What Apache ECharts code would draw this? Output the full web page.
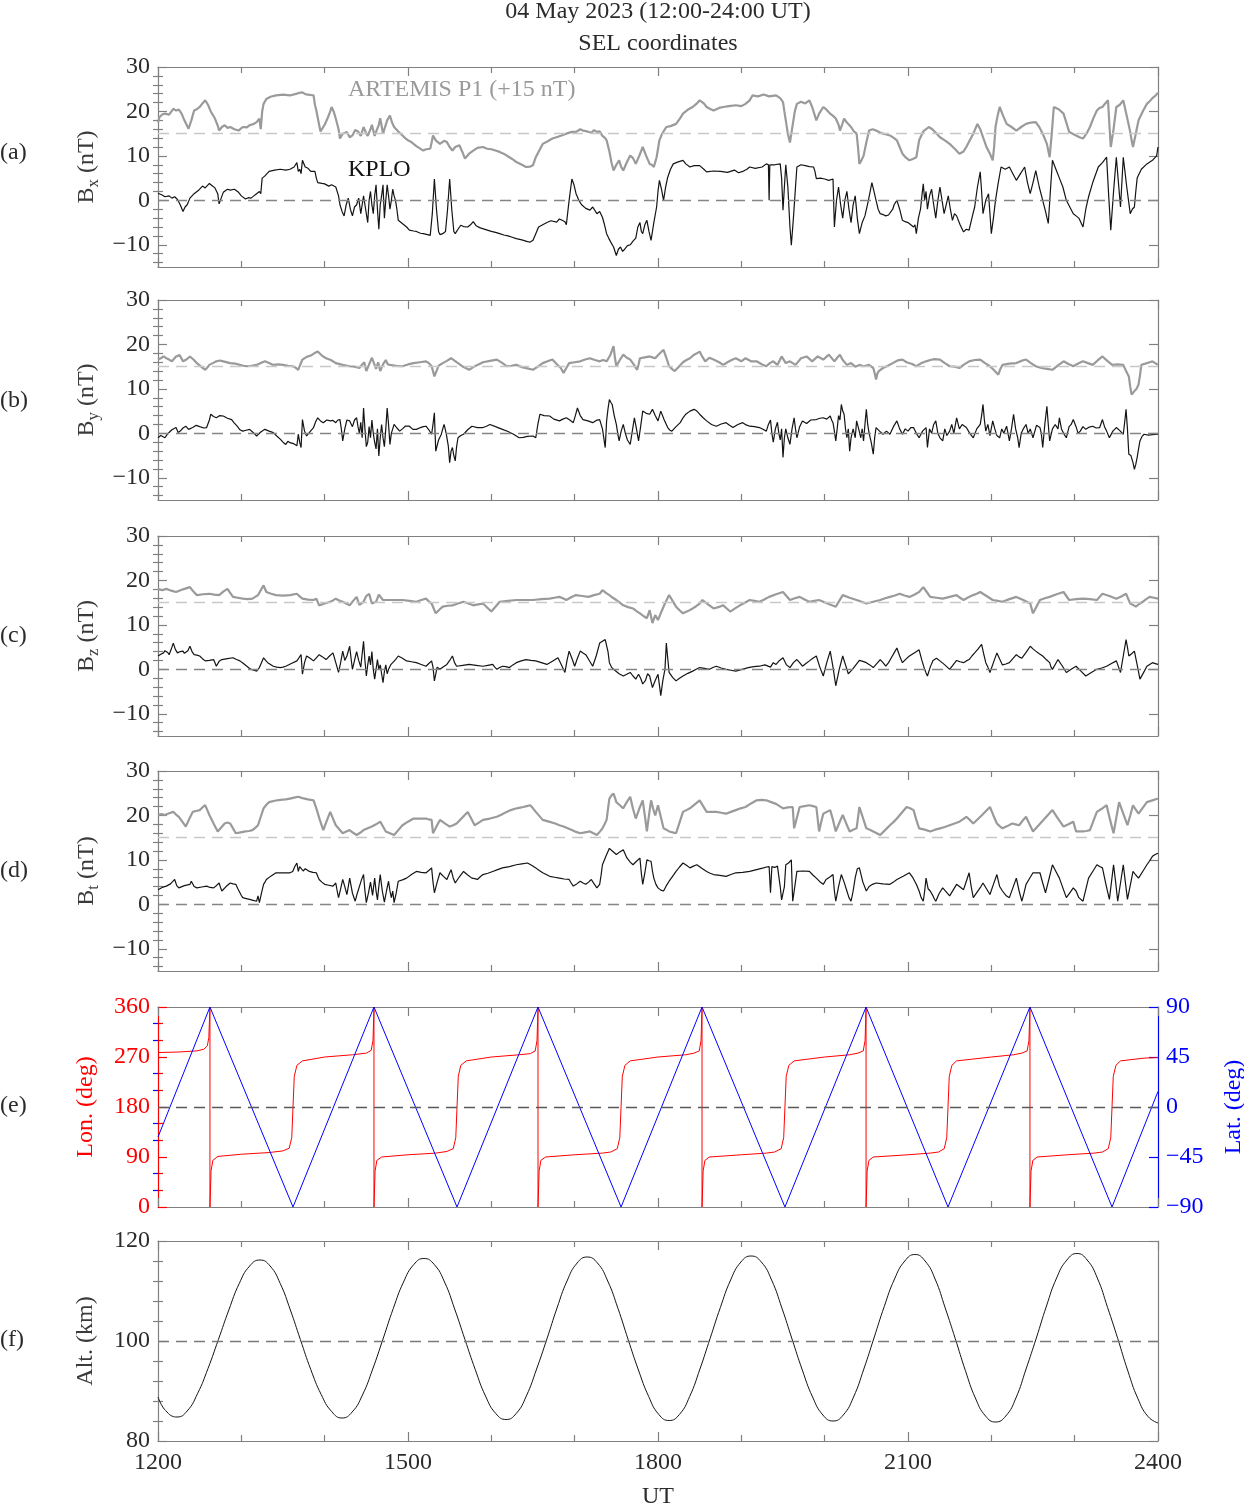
<!DOCTYPE html>
<html><head><meta charset="utf-8">
<script src="https://cdn.jsdelivr.net/npm/echarts@6/dist/echarts.min.js"></script>
<style>html,body{margin:0;padding:0;background:#fff}#c{width:1244px;height:1506px}</style>
</head><body><div id="c"></div>
<script>
// ---------- tick / label values ----------
const bLabels = [-10,0,10,20,30];
const bMinor = [-14,-12,-8,-6,-4,-2,2,4,6,8,12,14,16,18,22,24,26,28];
const lonLabels = [0,90,180,270,360];
const lonMinor = [30,60,120,150,210,240,300,330];
const latLabels = [-90,-45,0,45,90];
const latMinor = [-75,-60,-30,-15,15,30,60,75];
const altLabels = [80,100,120];
const altMinor = [84,88,92,96,104,108,112,116];

// ---------- data: [minutes after 12:00 UT, value] ----------
const kploBx = [[0,1.6],[3,1.2],[5,0.8],[8,1],[10,0.5],[12,0.8],[14,0.2],[16,-1],[18,-2.5],[19.5,-1.5],[21,-1],[23,0.5],[26,1.5],[29,2.2],[32,3.2],[34,2.8],[37,3.8],[39,3.3],[41,2.8],[43,1.5],[44,-0.8],[45.5,0.5],[47,1.8],[50,2.5],[52,2.3],[55,2.5],[58,1.8],[60,1],[63,0.3],[65,0.6],[67,0.5],[69,1],[71,1.5],[72,1.2],[73,2],[74,1.5],[75,5],[77,5.5],[80,6.5],[84,6.8],[88,7],[92,6.8],[95,7],[98,7.5],[100,8.5],[101,6.5],[102,7],[103,6],[104,9],[106,7.5],[108,7.2],[110,6.5],[113,6.5],[114,5],[115,4],[118,3.8],[120,3.7],[123,3.2],[125,3.5],[128,3],[130,1],[131,-1],[132.5,-2.5],[134,-3.5],[135.5,-1],[137,0.5],[138.5,-2],[140,-3.5],[141.5,-1.5],[143,-1],[144.5,0.5],[146,-3],[147,-1],[148,1],[149.5,-2],[151,-5],[152,0],[153,2],[154,-1],[155,-3],[156,1],[157,3.5],[158,-2],[159,-6.5],[160,-1],[161,1],[162,3.5],[163,-4],[164,0],[165,3.5],[166,1],[167,-2],[168,0],[169,2.5],[170,1],[171,0],[172,-2],[173,-4.5],[175,-5],[177,-5.5],[179,-6],[181,-6.7],[184,-6.9],[186,-7],[189,-7.4],[191,-7.5],[194,-7.7],[196,-7.9],[197.5,-3],[199,4.8],[200.5,-2],[202,-7],[203,-7.7],[205,-7.5],[207,-7],[208.5,-2],[210,4.8],[211.5,-2],[213,-7],[214,-7.5],[216,-6.5],[218,-5.6],[220,-5.9],[223,-6],[225,-5.5],[227,-4.8],[229,-5.7],[232,-6.2],[236,-6.6],[240,-7],[243,-7.2],[246,-7.5],[249,-7.8],[252,-8],[255,-8.3],[258,-8.6],[262,-8.9],[266,-9.3],[268,-9.4],[270,-9],[272,-7.5],[274,-6],[277,-5.5],[280,-5],[283,-4.6],[287,-4.9],[289,-4.2],[291,-4.5],[293,-4.8],[294,-5.5],[296,0],[298,4.8],[299.5,3.5],[301,1.5],[303,0],[305,-1],[308,-1.8],[311,-2.2],[313,-1.5],[316,-3],[318,-2.5],[320,-3.8],[321.5,-5.5],[323,-7.5],[324.5,-8.5],[326,-9.4],[328,-10.5],[330,-12.4],[331.5,-11],[333,-10.5],[334.5,-11.5],[336,-11],[338,-10.2],[340,-10],[342,-9.2],[344,-8.5],[345.5,-6],[347,-5],[348,-7],[349,-7.5],[350.5,-5.5],[352,-4.5],[353.5,-7],[355,-9],[357,-5],[359,-1.5],[360,2],[361,4.5],[362.5,2.5],[364,0],[365.5,3],[367,5.2],[369,7],[371,8.2],[374,8.6],[378,9],[380,8.2],[383,7.5],[386,7.8],[390,7.8],[393,7],[395,6.4],[400,6.6],[405,6.5],[410,6.3],[415,6.8],[418,6.2],[421,6.5],[424,7],[426,7.5],[430,7.2],[435,7.5],[438,8.2],[439.5,8],[440,0],[440.5,8],[444,8],[448,8.2],[449,5],[450,-2.2],[451,3],[452,8],[453.5,3],[455,-6],[456,-10.1],[457.5,-4],[459,3],[460,7.5],[463,8],[466,7.8],[469,7.6],[472,7.5],[473,6.5],[474,4.9],[477,5],[480,4.8],[483,4.5],[486,4.8],[487,-6],[488.5,0],[490,3],[491.5,-1],[493,-4],[494.5,0],[496,2],[497.5,-2],[499,-5],[500.5,-1],[502,1],[503.5,-4],[505,-7.5],[507,-5],[509,-3.5],[511.5,0],[514,4],[515.5,2],[517,0],[518.5,-2],[520,-3],[522,-3.2],[524,-3.5],[526,-3.3],[527,-3.7],[529,-2],[530,-1],[532,0],[534,-2],[536,-4.5],[538,-4.8],[540,-5],[542,-5.5],[544,-6],[545,-5.5],[546,-7.5],[547.5,-4],[549,-2],[550,1],[551,3.7],[552,0],[553,2],[554,-2],[555.5,1],[557,2.5],[558.5,-1],[560,-4],[561.5,0],[563,3],[564.5,0],[566,-3],[567.5,-1],[569,1],[570.5,-2],[572,-4.5],[573.5,-3],[575,-3.5],[577.5,-5.5],[580,-7.1],[582,-6.5],[584,-6.7],[586,-4],[588,-1.5],[590,3],[592,6.4],[593,2],[594,-3],[596,0],[598,1.5],[599,-3],[600,-7.5],[601.5,-4],[603,0],[605,4],[607,7.5],[610,7],[613,7.5],[615.5,6],[618,4.5],[621,6],[624,7.5],[626,4],[628,1.5],[630,4],[632,6.7],[634.5,3],[637,0],[639,-2.5],[641,-5.2],[642.5,2],[644,9],[646.5,7],[649,5],[651.5,3],[654,0],[656.5,-1.5],[659,-3],[661,-3.5],[663,-4],[664.5,-5],[666,-6],[668,-2],[670,0.8],[673,4],[677,7.5],[680,8.5],[683,9.7],[684.5,1],[686,-6.7],[688,2],[690,9.7],[691.5,4],[693,-1.5],[694,4],[695,9.7],[697.5,3],[700,-3],[701.5,-2],[703,-1.5],[704,2],[705,5],[708,7],[712,8.2],[716,9],[719,10],[720,12]];

const artemisBx = [[0,17.5],[1,18.7],[3,19.3],[5,19.5],[8,19.3],[11,20.6],[13,20.2],[15,20.4],[17,19.5],[19,18],[22,16.1],[24,18],[26,20.2],[28,20.5],[30,21],[32,21.8],[34,22.5],[36,21.5],[38,20],[41,18.4],[43,16.8],[44,15.7],[46,16.5],[48,16.9],[50,16.3],[52,16.5],[55,16],[58,15.7],[61,16.5],[64,16.4],[66,16.9],[69,17.2],[71,17.6],[73,18.4],[74,16],[75,20],[76,21.7],[78,22.8],[81,23.3],[85,23.6],[90,23.8],[95,23.6],[100,24],[102,24.2],[104,24.3],[106,23.9],[108,23.8],[110,23.7],[112,23.6],[113,21.5],[114,20.2],[116,17],[117,15.5],[118,15.7],[120,17],[122,18.4],[124,20],[125,21],[126.5,20],[128,18.4],[130,16],[131,13.9],[133,15],[136,15.4],[138,14.2],[140,14.6],[142,15.8],[144,15.5],[146,14.5],[148,16.5],[150,15],[151,14.5],[153,16],[154,17],[156,14.5],[157,15.4],[159,17],[160,18.5],[162,15],[163,16],[165,18],[167,19.1],[168.5,17.5],[170,16.5],[173,15.5],[176,14.6],[178,14],[180,13.5],[182,13.2],[184,12.7],[186,12.2],[188,11.8],[191,11.2],[193,11.5],[196,11.6],[197,13],[198,14.6],[200,13.5],[203,12.7],[206,13.4],[208,13.1],[210,12],[212,11.2],[214,12],[217,12.4],[219,11],[221,9.4],[224,10.5],[227,11.2],[230,11.8],[234,12],[237,11.6],[240,11.5],[243,11.2],[246,10.9],[250,10.3],[253,9.7],[256,9.1],[258,8.6],[262,8],[265,7.5],[268,7.6],[270,7.9],[272,9.7],[275,11.5],[277,12.7],[280,13.2],[284,13.9],[288,14.3],[294,15],[298,15.4],[301,15.4],[304,16],[306,15.7],[309,15.5],[312,15.2],[314,15.8],[316,15.4],[318,15.5],[320,14.5],[322,14],[323,13.5],[325,11],[326.5,8.5],[328,6.7],[330,8],[332,9],[333.5,7.5],[335,6.7],[337.5,8.5],[340,10.1],[342,9.5],[344,8.2],[346.5,10],[349,12],[351.5,10],[354,8.2],[355.5,8],[357,7.5],[359,9.7],[361,13.5],[363,15],[366,16.5],[369,16.7],[373,17.2],[376,18.5],[378,19.5],[382,20.5],[385,21],[388,21.8],[390,22.5],[393,21.8],[395,21],[398,20.5],[400,20.2],[404,20.8],[407,21],[411,21.2],[416,21.4],[420,21.2],[423,21.7],[426,22.5],[428,23.6],[432,23.4],[436,23.8],[440,23.4],[445,23.6],[448,23],[450,22.1],[451,20],[452,18],[453.5,15],[455,13],[456,15],[457,17],[458.5,20],[460,21.7],[463,22.2],[466,21.8],[469,22.5],[471,21],[474,18],[476,19.5],[479,21],[481,20.5],[484,19.5],[486,19],[488,18.4],[490,17],[491,15.7],[492.5,17],[494,18.4],[496,17.5],[499,16.5],[501,15.5],[503,15],[504,12],[505,8.2],[506.5,9],[508,10],[510,13],[512,15.7],[514.5,16],[517,15.7],[519.5,15.3],[522,15],[524.5,14.8],[527,14.6],[530,14],[532,13.5],[534,12],[536,10.5],[538.5,9.6],[541,9],[543.5,9.3],[546,9.7],[548,13.5],[551,15.5],[555,16.5],[557.5,16],[560,15.2],[563,14.2],[566.5,13.5],[570,12.7],[574,11.5],[577,10.5],[580,11],[582,12],[584.5,13.5],[587,15],[590,17.2],[592,16],[594,14.2],[596.5,12],[599,10.5],[601,9],[602,12],[603,16.5],[604.5,19],[606,21],[608.5,19],[611,17.2],[614.5,16.5],[618,15.7],[621.5,16.5],[625,17.2],[628.5,17.5],[632,17.6],[634.5,16.5],[637,15],[640,12.7],[642,9.7],[643.5,15],[645,21],[648.5,20.5],[652,19.5],[654,17.5],[656,15.4],[658.5,15],[661,14.6],[663.5,14.2],[666,13.9],[668.5,15],[671,16.5],[673.5,18.5],[676,20.2],[678,20.8],[680,21],[682,21.8],[684,22.5],[685,17],[686,12],[688,16],[690,21],[692.5,21.5],[695,22.5],[697.5,19],[700,15.4],[701,13.5],[702,12],[704,15],[706,18],[709,20],[712,21.7],[714,22.3],[716,23],[718,23.5],[720,24.2]];

const kploBy = [[0,-1],[2,-0.5],[5,-1],[6.5,-0.3],[8,0.2],[10,0.8],[13,1.3],[14.5,0.2],[16,0.5],[18,1.2],[20,1.6],[22,0.9],[25,1.3],[27.5,1.8],[30,1.5],[33,1.2],[35,1.3],[36,1.3],[37,3],[38,4.3],[40,3.8],[42,3.5],[44.5,4],[47,3.9],[50,3.4],[53,3.1],[55,2.3],[57,1.6],[59,0.8],[61,0.5],[63.5,0.7],[66,0.9],[68.5,0.2],[71,-0.6],[74,0.3],[77,0.9],[80,0.5],[83,0.15],[85.5,-0.6],[88,-1.3],[90,-2],[92,-2.5],[93.5,-1.8],[95,-2.1],[97.5,-2.3],[100,-2.8],[101,-0.2],[102,-2],[103,-3.2],[104,3.1],[105.5,0.5],[107,-0.6],[109.5,0.4],[112,1.3],[113.5,2.6],[115,3.5],[117,2.8],[119,2.4],[121.5,3],[124,2.8],[126,2.9],[128,2.4],[129.5,3],[131,3.1],[132,1],[133,-1.7],[134.5,1],[136,3],[138,2.8],[140,1.5],[141.5,3],[143,3.5],[144,1.5],[145,0],[146,2.5],[147,-1],[148,5.7],[149,1],[150,-3],[151,-2],[152,1.5],[153,-1],[154,3],[155,0],[156,-2],[157,-3.5],[158,1],[159,-5.1],[160,-1],[161,2],[162,-1],[163,-3],[164,1],[165,5.7],[166,2],[167,-2.5],[168,0],[169,1],[170,2],[172,1.2],[174,0.5],[176,1],[178,1.6],[181,1.6],[183.5,0.9],[186,0.9],[189,1.3],[191,1.5],[193,1.6],[195,0.8],[197,-0.2],[198,2],[199,4.6],[199.5,0],[200,-4],[202,-1.5],[204,-0.2],[205,1],[206,2],[207.5,0],[209,-2.8],[210,-6.6],[211,-4],[212,-3.2],[213,-5],[214,-6.2],[215,-3],[216,-1],[218,-0.5],[220,-0.2],[223,0.8],[226,1.6],[230,1.3],[234,1.3],[236.5,1.6],[239,2],[243,1.5],[248,0.9],[252,0.4],[256,-0.2],[258,-0.6],[260,-1],[263,-0.9],[266,-0.7],[270,-0.6],[272,-1],[273.5,2],[275,4.3],[278,4],[282,3.9],[285,3.2],[289,2.8],[291.5,3.2],[294,3.5],[296.5,3],[299,2.4],[300.5,4],[302,5.7],[304,4],[306,3.1],[309.5,2.8],[313,2.4],[315.5,2.9],[318,3.1],[320,1],[322,-3.2],[323,2.8],[324,5.5],[325,7.6],[326,7],[327,6.5],[328.5,4],[330,2],[331,0],[332,-1.7],[333.5,0.5],[335,2],[336.5,0],[338,-1.5],[340,-2.5],[341.5,0.5],[343,3.5],[344.5,1],[346,-1.7],[347.5,1.5],[349,5],[351.5,4.5],[354,4.3],[356,5.4],[358,4],[360,2.8],[362,5],[364.5,3],[367,1.3],[368.5,0.7],[370,0.5],[373,1.5],[376,2.4],[378,3.5],[380,4.3],[383,5],[386,5.4],[388,5],[390,4.3],[392.5,3.5],[395,2.8],[398.5,2],[402,1.6],[405.5,2.1],[409,2.4],[411.5,1.8],[414,1.3],[417.5,2],[421,2.4],[423.5,1.9],[426,1.6],[429.5,1.5],[433,1.3],[435.5,0.9],[438,0.5],[439.5,2],[441,3],[442,0],[443,-2],[444.5,1],[446,2.5],[447,0],[448,-1.5],[449,1],[450,-5.4],[451,-1],[452,1],[453.5,-1],[455,-2.5],[456.5,1],[458,3.5],[459,1],[460,-1],[462,1.5],[464,2.8],[467,2.2],[470,3],[474,3.1],[476.5,3.4],[479,3.5],[481.5,3.2],[484,3.9],[485,3],[486,2.4],[487,0.5],[488,-1.7],[489,1],[490,4],[491,3],[492,6.5],[493,5],[494,4.3],[495,1],[496,-1],[497,1],[498,-4],[499,-1],[500.5,1],[502,-1],[503,2.8],[504.5,1],[506,-1],[507,1],[508,-1.7],[509,2],[510,5.4],[511,2],[512,0],[513.5,-2],[515,-4.7],[516,-1],[517,1.3],[519.5,0.5],[522,-0.2],[524.5,0.5],[527,-0.2],[529.5,1.5],[532,2.8],[534,1],[536,-0.2],[538,1],[540,0.5],[542,1.3],[544,1.3],[546,0],[548,-1],[550.5,0.5],[553,1.3],[554,-3.2],[555.5,1],[557,0],[558.5,2],[560,2.8],[561.5,0],[563,-1],[565,-1.7],[566.5,1],[568,-0.5],[570,0.5],[571.5,2],[573,0],[575,3.5],[577,1],[579,2],[582,1.3],[584.5,0],[587,-1],[589.5,1],[592,2],[593,4],[594,6.5],[595,3],[596,0.5],[597.5,2],[599,-0.5],[601,2.8],[602.5,1],[604,-0.5],[606,-1],[607.5,1],[609,0],[611,1.6],[612,0],[613,-1.7],[614.5,1],[616,4.3],[617.5,1],[619,-1],[620,-3.2],[621.5,0],[623,1],[625,2],[626.5,0],[628,1],[630,-1],[632.5,1.8],[635,1.3],[636,0],[637,-3.2],[638.5,2],[640,6.1],[641,2],[642,-1.7],[644,1],[646,2],[648,1],[649,3.5],[650.5,1],[652,0],[654,-1],[656,1.5],[657.5,2],[659,3.1],[661,1.5],[662.5,0],[664,0.5],[666,1.5],[668,0.9],[670.5,1.4],[673,1.6],[675.5,1.2],[678,1.3],[679,2.2],[680,3.1],[681.5,1.5],[683,0.5],[685,-1],[687.5,0.5],[690,1.3],[692.5,0.6],[695,-0.2],[696,2.5],[697,5.4],[698,1],[699,-4.7],[700.5,-5],[702,-6.6],[703,-8.1],[704,-7],[705,-5.4],[706,-3.5],[707,-1.7],[708.5,-0.7],[710,-0.2],[713,-0.4],[716,-0.3],[720,-0.2]];

const artemisBy = [[0,16.6],[2,16.9],[4,17.3],[6,16.9],[8,16.6],[10,16.2],[13,17.3],[15.5,17.6],[18,16.2],[20.5,16.6],[23,17.3],[25.5,16.6],[28,15.8],[31,15],[34,14.3],[35.5,14.8],[37,15.4],[39.5,15.8],[42,16.2],[44.5,16.4],[47,16.2],[52,15.8],[55.5,15.7],[59,15.4],[61.5,15.2],[64,15.1],[67.5,15.2],[71,15.4],[74,15.8],[77,16.2],[80,15.8],[83,15.4],[86.5,15.5],[90,15.4],[93.5,15.2],[97,15.1],[99,14.8],[101,14.3],[102.5,15.5],[104,16.6],[107,17.2],[110,17.5],[112.5,18],[115,18.4],[118,17.5],[121,16.9],[124.5,16.5],[128,15.8],[133,15.4],[138,15.1],[141.5,15],[145,14.7],[147,15.5],[148.5,16],[150,14],[152,15.5],[154,17],[155,16.2],[157,14.5],[158.5,16],[160,14],[162,15.5],[164,16.5],[165.5,15.5],[167,15.4],[171.5,15.2],[176,15.1],[180,15.5],[184,15.8],[188.5,16],[193,16.2],[195,15.8],[197,15.1],[198,14],[199,12.8],[200.5,14],[202,15.2],[205,15.8],[208,16.3],[211,16.9],[215,16],[219,15.1],[221.5,14.7],[224,14.3],[227,14.9],[230,15.4],[234,16],[239,16.3],[244,16.6],[247.5,15.9],[251,15.1],[254.5,15.2],[258,15.4],[262,14.9],[266,14.6],[270,14.3],[273.5,15],[277,15.8],[280.5,16.2],[284,16.6],[287,15.6],[290,14.7],[292,13.6],[294,14.7],[296,15.8],[300,16],[304,16.2],[307.5,16.6],[311,16.9],[314.5,16.5],[318,16.2],[320.5,16.5],[323,16.2],[325.5,17.5],[328,19.6],[329,17],[330,15.1],[332.5,16.5],[335,17.7],[337.5,17],[340,16.6],[342.5,15.5],[345,14.3],[346,15.5],[347,16.9],[350.5,17.1],[354,17.3],[356,17.1],[358,16.9],[361,17.9],[364,18.8],[366,17],[368,15.1],[370,14.5],[372,14],[375,15],[378,16],[380.5,16.5],[383,16.9],[386,17.7],[388,18],[390,18.4],[392,17.2],[394,16.2],[397,17],[400,16.6],[404,16],[407,15.4],[410,16],[413,16.5],[416,16.9],[420,16.2],[423,16.9],[427,16.2],[431,16.2],[435,15.5],[438,15.1],[440.5,15.8],[443,16.2],[446,15.4],[449,17.3],[452,15.8],[455,16.2],[459,15.4],[463,16.9],[467,17.3],[471,16.2],[475,17.3],[479,16.6],[483,17.7],[487,16.2],[489,17],[491,17.7],[493,16.5],[496,15.4],[499,15.8],[502,15],[505,15.4],[508,15.1],[512,15.4],[515,14.7],[516,13.5],[517,12.1],[518,13.5],[519,14],[522,14.7],[525.5,15.2],[529,15.8],[532.5,16.4],[536,16.6],[539,16],[543,15.6],[546,15.1],[549,15.7],[553,16.2],[556,16.5],[559,16.7],[563,16.6],[566.5,15.8],[570,15.1],[573.5,15],[577,14.7],[580.5,15.5],[584,16.2],[588,16.5],[592,16.6],[595.5,15.8],[599,15.1],[602,14.2],[605,13.2],[606.5,14.5],[608,15.4],[613,15.7],[618,15.8],[621.5,16.3],[625,16.6],[628.5,15.8],[632,15.1],[636,14.7],[640,14.5],[644,14.3],[648,15.3],[652,16.2],[655.5,15.6],[659,15.1],[662.5,15.7],[666,16.2],[669.5,15.8],[673,15.4],[676.5,16.4],[680,17.3],[683.5,16.3],[687,15.4],[691,15.5],[695,15.4],[697,14],[699,12.8],[700,10.5],[701,8.7],[702,9],[703,9.5],[704.5,10],[706,11],[707,13],[708,15.4],[710,15.6],[712,15.8],[714,16],[716,16.2],[718,15.8],[720,15.4]];

const kploBz = [[0,3],[2,3.4],[4,3.7],[5,4.2],[6,4.4],[7,3.8],[8,3.3],[9.5,4.5],[11,5.9],[12.5,4.5],[14,3.7],[16,4],[18,4.1],[19,3.6],[20,3.3],[21.5,4.2],[23,5.2],[24.5,4],[26,3.3],[28,3.2],[30,3],[32,2.4],[34,1.9],[37,2],[40,2.2],[41,1.5],[42,0.7],[44,1.8],[46,2.2],[50,2.4],[54,2.6],[56.5,2.2],[59,1.9],[61.5,1.3],[64,0.7],[65.5,0.3],[67,0],[69,-0.2],[71,-0.4],[72,0],[73,0.4],[74.5,1.5],[76,2.6],[77.5,2],[79,1.5],[81,1.1],[83,0.7],[85.5,0.5],[88,0.4],[90,0.5],[92,0.7],[96,1.3],[100,1.9],[101.5,2.6],[103,3.3],[104,-1.1],[105.5,1.5],[107,3],[109.5,2.5],[112,1.9],[114,2.6],[116,3.3],[118.5,2.8],[121,2.2],[123.5,3],[126,3.7],[128,1.5],[130,-0.7],[131.5,1.5],[133,4.1],[134.5,2],[136,3],[138,5.2],[139,2.5],[140,0],[141.5,2],[143,4],[144.5,2],[146,0.5],[147,3.5],[148,6.3],[149,2],[150,-1.5],[151,1],[152,3],[153,1],[154,4],[155,0],[156,-2.2],[157,0],[158,2.2],[159,0],[160,1],[161,-1],[162,-3],[163,-0.5],[164,1],[165,-1],[166,0],[167.5,1],[169,1.5],[171,2.2],[173,3],[176,2.5],[179,1.9],[182.5,1.7],[186,1.5],[189.5,1.1],[193,0.7],[195,1.3],[197,1.9],[198,0.5],[199,-2.6],[200,-1],[201,0.5],[203,0],[205.5,0.6],[208,1.1],[210,2],[212,3],[213.5,1.5],[215,0.7],[219.5,0.9],[224,1.1],[229,0.9],[234,0.7],[237.5,0.9],[241,1.1],[242.5,0.5],[244,0],[246,0.4],[248,0.7],[250.5,0.6],[253,0.4],[255.5,1],[258,1.5],[261.5,1.9],[265,2.2],[268.5,2],[272,1.9],[276,1.5],[280,1.1],[284,1.8],[288,2.6],[290.5,1],[293,-0.7],[294.5,2],[296,4.1],[298,2.5],[300,0.7],[302,2.5],[304,4.1],[306,3.7],[308,3.3],[310.5,2],[313,0.7],[315.5,3],[318,5.9],[320,6.3],[322,6.7],[323,7],[324,4],[325,1.5],[326.5,0.5],[328,0],[330,-0.5],[332,-1],[335,-1.5],[337.5,-1.1],[340,-0.7],[342,-1.5],[344,-2.2],[345,-1.6],[346,-1.1],[347.5,-2],[349,-3.3],[351,-2.5],[352.5,-1],[354,-1.5],[355,-2.8],[356,-4.1],[358,-2.5],[360,-1.1],[361,-3.5],[362,-5.9],[363.5,-2.5],[365,0],[366,5.9],[367,2.5],[368,-0.7],[370.5,-1.8],[373,-2.6],[375.5,-2],[378,-1.5],[381.5,-0.9],[385,-0.4],[387.5,0],[390,0.4],[393.5,0.2],[397,0],[399.5,0.4],[402,0.7],[405.5,0.3],[409,0],[412.5,-0.2],[416,-0.4],[420.5,0],[425,0.4],[429,0.6],[433,0.7],[437,1],[441,0.5],[443,1.5],[445,1.1],[447.5,2],[450,2.6],[452.5,1],[455,0.4],[457.5,1.5],[460,2.2],[462,1.5],[464,0.7],[466.5,1.3],[469,1.9],[471.5,2.5],[474,3],[476.5,0.5],[479,-1.5],[481.5,1.5],[484,4.1],[486,0.5],[488,-3.7],[490.5,0],[493,3],[495,1],[497,-1],[498.5,-0.5],[500,0],[502.5,1],[505,2],[507.5,1.8],[510,1.5],[512.5,1],[515,0.4],[517.5,1.3],[520,2.2],[522,1.5],[524,0.7],[526,1.5],[528,2.6],[530,3.7],[532,4.8],[534,3],[536,1.5],[538.5,2.3],[541,3],[544.5,3.7],[548,4.4],[550,2],[552,0],[553,-0.8],[554,-1.5],[556,0.5],[558,2],[560.5,2.5],[563,1.9],[566.5,1],[570,0],[572.5,1],[575,2],[577.5,1.7],[580,1.5],[582,1.9],[584,2.2],[586,3],[588,3.7],[590.5,4.6],[593,5.6],[594.5,3.5],[596,1.5],[597.5,0.5],[599,-0.7],[601.5,1.5],[604,3.7],[606,2.3],[608,1],[610.5,1.2],[613,1.5],[615.5,2.4],[618,3.3],[620,2.8],[622,2.5],[625,3.8],[628,5.2],[630,4.6],[632,4.1],[634.5,3.5],[637,3],[639.5,2.2],[642,1.5],[643,0.5],[644,0],[646,1.1],[648,2.2],[651,0.8],[654,-0.7],[657.5,0],[661,0.7],[664.5,-0.4],[668,-1.5],[672,-0.7],[676,0],[679.5,0.3],[683,0.7],[686.5,1.3],[690,1.9],[691.5,0.6],[693,-0.7],[695,3],[697,6.7],[698,5],[699,3],[701,3.5],[703,4.1],[705,1],[707,-2.2],[709.5,-0.8],[712,0.7],[714,1.1],[716,1.5],[718,1.3],[720,1.1]];

const artemisBz = [[0,18.1],[3,17.8],[6,18.1],[9.5,17.7],[13,17.4],[18,18],[23,18.5],[25.5,17.5],[28,16.7],[32.5,16.9],[37,17],[40.5,16.8],[44,16.7],[47,17.5],[50,18.1],[52,17.2],[54,16.3],[57.5,16.1],[61,15.9],[64.5,15.8],[68,15.9],[70,16.3],[72,16.7],[74,17.8],[76,18.9],[78,17.4],[81.5,17],[85,16.7],[90,16.6],[95,16.7],[100,17],[102,16.4],[104,15.9],[108,15.7],[112,15.6],[114,15.9],[116,14.4],[120,14.8],[124,15.2],[126,15.5],[128,15.9],[130.5,15.5],[133,15.2],[135.5,14.8],[138,14.4],[140.5,15.4],[143,16.3],[145,14.5],[148,15.2],[150,16.5],[152,17],[154,14.8],[157,15.2],[159,16.8],[162,15.6],[167,15.6],[171.5,15.6],[176,15.6],[181,15.4],[186,15.2],[189.5,15.6],[193,15.9],[195,15.3],[197,14.8],[198.5,13.7],[200,12.6],[202.5,13.4],[205,14.1],[208.5,14.3],[212,14.4],[216,14.8],[220,15.2],[223.5,14.8],[227,14.4],[230.5,14.6],[234,14.8],[237,13.9],[240,13],[243,14.1],[246,15.2],[252,15.4],[258,15.6],[264,15.6],[270,15.6],[276,15.8],[282,15.9],[285.5,16.1],[289,16.3],[291.5,16],[294,15.6],[297.5,16.2],[301,16.7],[305.5,16.5],[310,16.3],[314,16.7],[318,17],[320,17.8],[322.5,17.2],[325,16.7],[327.5,16.1],[330,15.6],[332.5,15],[335,14.4],[338.5,14],[342,13.7],[344.5,13.1],[347,12.6],[349.5,12],[352,11.5],[354,13.3],[356,10.4],[358,12.2],[360,11.1],[362.5,13],[365,14.8],[368,16.7],[370.5,15.4],[373,14.1],[375.5,13.3],[378,12.6],[381.5,13.1],[385,13.7],[387.5,14.2],[390,14.8],[392,15.6],[396,14.6],[400,13.7],[403.5,14],[407,14.4],[409.5,13.7],[412,13],[415.5,13.7],[419,14.4],[422.5,15],[426,15.6],[429.5,15.4],[433,15.2],[436.5,15.7],[440,16.3],[445,16.9],[450,17.4],[452.5,16.5],[455,15.6],[458.5,16],[462,16.3],[465.5,15.7],[469,15.2],[472.5,15.4],[476,15.6],[482,14.8],[488,14.1],[490.5,15.4],[493,16.7],[498,16.1],[503,15.6],[506.5,15.2],[510,14.8],[515,15.2],[520,15.6],[523.5,16],[527,16.3],[530.5,16.6],[534,17],[537.5,16.6],[541,16.3],[544.5,16.8],[548,17.4],[551,18.5],[553.5,17.4],[556,16.3],[560.5,16.1],[565,15.9],[570,16.3],[575,16.7],[577.5,16.1],[580,15.6],[583.5,16.2],[587,16.7],[589.5,17],[592,17.4],[596.5,16.5],[601,15.6],[604.5,15.4],[608,15.2],[613,15.8],[618,16.3],[623,15.6],[628,14.8],[630,12.6],[632.5,14.1],[635,15.6],[638.5,16],[642,16.3],[647,16.9],[652,17.4],[654,16.5],[656,15.6],[661,15.8],[666,15.9],[671,15.8],[676,15.6],[678,16.3],[680,17],[685,16.5],[690,15.9],[693.5,16.4],[697,17],[698.5,15.9],[700,14.8],[702,14.5],[704,14.1],[706.5,14.7],[709,15.2],[711.5,15.8],[714,16.3],[717,16.1],[720,15.9]];

const kploBt = [[0,3.3],[3,3.8],[6,4.1],[9,4.6],[12,5.6],[13.5,4.2],[15,3.7],[19,4.2],[23,4.5],[24,5.2],[26,4],[28,3.7],[31.5,3.9],[35,4.1],[37.5,3.8],[40,3.7],[42,4.2],[44,4.8],[45,3.8],[46,3],[49,4],[52,4.8],[54,4.6],[56,4.5],[57.5,3.5],[59,2.6],[60,2],[61,1.5],[63.5,1.3],[66,1.1],[68.5,0.9],[71,0.7],[72,1.9],[73,0.4],[74.5,2.5],[76,4.5],[77,5],[78,5.6],[81.5,6.4],[85,7.1],[90,7.1],[95,7.1],[97,7.4],[98.5,8.5],[100,9.3],[101,7.4],[102,8.5],[103,8.9],[104.5,7.5],[106,8],[109,7.4],[111.5,7.2],[114,7.1],[115,6.3],[116,5.6],[118,5],[120,4.5],[123,4.3],[126,4.1],[128,4.8],[129,3],[130,1.5],[131.5,3.5],[133,5.6],[134.5,4],[136,2.2],[137,4],[138,5.9],[140,2.5],[142,0.7],[143.5,2.5],[145,4],[146.5,5.5],[148,6.7],[149,3],[150,0.4],[151.5,2.5],[153,5],[154.5,2],[156,5.9],[157,3],[158,1],[159,4],[160,6.7],[161.5,3],[163,0.5],[164.5,3],[166,5.2],[167,3],[168,1.5],[169,3],[170,0.4],[171.5,2.5],[173,5.2],[176,5.5],[179,5.9],[182.5,6.7],[186,7.4],[189.5,7.2],[193,7.1],[195,7.6],[197,8.2],[198,5],[199,2.6],[201,5],[203,7.1],[205.5,6.3],[208,5.6],[209.5,6.7],[211,7.8],[212.5,6],[214,4.8],[217,6.2],[220,7.4],[223,6.6],[226,5.9],[228,5.8],[230,5.6],[232,6.2],[234,6.7],[237.5,7],[241,7.4],[244.5,7.8],[248,8.2],[253,8.5],[258,8.9],[262,9.1],[266,9.3],[269,8.8],[272,8.2],[274.5,7.6],[277,7.1],[279.5,6.7],[282,6.3],[285.5,6.1],[289,5.9],[292.5,5.7],[296,5.6],[297.5,4.8],[299,4.1],[301.5,4.6],[304,5.2],[306,4.8],[308,4.5],[310,5],[312,5.6],[314,4.6],[316,3.7],[318,4.5],[319,6.5],[320,8.9],[322.5,10.8],[325,12.6],[327.5,11.9],[330,11.2],[332.5,11.8],[335,12.3],[337.5,10.5],[340,9.5],[342,8.9],[344.5,9.7],[347,10.4],[348,7],[349,4.5],[350.5,7],[352,10],[353.5,9.8],[355,9.7],[356,7.5],[357,5.9],[358.5,4.5],[360,3.7],[362,3.2],[364,3],[366,4.2],[368,5.2],[370.5,6.3],[373,7.4],[375.5,8.4],[378,9.3],[380.5,8.8],[383,8.2],[385.5,8.6],[388,8.9],[391.5,8.1],[395,7.4],[397.5,7],[400,6.7],[404.5,6.5],[409,6.3],[412.5,6.7],[416,7.1],[421,7.2],[426,7.4],[431,7.8],[436,8.2],[438,8.4],[440,8.5],[441,2.6],[442,8.5],[444,8.3],[446,8.6],[448,4],[449,1],[450,0.7],[451,4],[452,8.9],[454,9.3],[456,10],[456.5,5],[457,0.7],[458.5,4],[460,7.4],[464.5,7.5],[469,7.4],[471.5,6.6],[474,5.9],[476.5,5.1],[479,4.5],[481,5.6],[484,6.2],[486,6.7],[487,3],[488,0.7],[490,4],[492,6.7],[494,5],[496,3],[497.5,1.5],[499,0.7],[500.5,3],[502,6],[503.5,8],[505,8.2],[507.5,5],[510,3],[512,4],[514.5,4.5],[517,4.8],[522,4.6],[527,4.5],[529.5,5],[532,5.6],[536.5,6.3],[541,7.1],[543.5,6],[546,4.5],[548,3],[549.5,1.5],[551,0.7],[552,3],[553,5.9],[554.5,3.5],[556,3],[558,1.9],[559,1.2],[560,0.7],[562.5,2.5],[565,3.7],[567.5,2.8],[570,1.9],[572.5,3.2],[575,4.5],[577.5,3.9],[580,3.3],[582,5.2],[584,7.1],[585.5,4],[587,1.5],[589,2.4],[591,3.3],[592.5,4],[594,4.8],[596.5,3.5],[599,2.2],[601.5,4.5],[604,6.7],[606,4],[608,3],[610.5,2],[613,1.5],[615.5,3.7],[618,5.9],[620,3],[622,0.7],[623.5,2.5],[625,4.5],[627.5,5.8],[630,7.1],[632.5,7.1],[635,7.1],[637,4.8],[639,2.6],[641.5,5.7],[644,8.9],[646.5,7.4],[649,5.9],[651.5,3.7],[654,1.5],[656.5,2.6],[659,3.7],[661,3],[663,1.5],[666,0.7],[668,3.3],[670,5.9],[673,7.4],[676,8.9],[678,8.5],[680,8.2],[682.5,4.5],[685,1.1],[686.5,5],[688,8.9],[689.5,5],[691,0.7],[693,4.8],[695,8.9],[696.5,5],[698,1.1],[700,4.2],[702,7.4],[704,6.6],[706,5.9],[709,7.4],[712,8.9],[714,9.8],[716,10.8],[718,11.2],[720,11.5]];

const artemisBt = [[0,20.1],[2.5,20.3],[5,20.1],[8,20.5],[11,20.8],[13,20.2],[15,19.7],[17.5,18.6],[20,17.5],[22.5,19.2],[25,20.8],[27.5,21],[30,21.2],[32,21.8],[34,22.3],[35.5,21.2],[37,20.1],[40,18.2],[43,16.4],[45.5,17.3],[48,18.2],[50,18.4],[52,18.2],[54,17.1],[56,16],[59.5,16.2],[63,16.4],[65.5,16.5],[68,16.7],[70,17.2],[72,17.8],[74,19.7],[76,21.6],[78,22.4],[80,23],[84,23.3],[88,23.5],[92,23.6],[95,23.8],[98,24],[101,24.2],[104,23.9],[108,23.6],[112,23.4],[113,22.5],[114,21.6],[116.5,19],[119,16.7],[121.5,18.8],[124,20.8],[126,19.3],[128,17.8],[130.5,16.9],[133,16],[135.5,16.4],[138,16.7],[140.5,16.1],[143,15.6],[145.5,16.1],[148,16.7],[151,17.1],[154,17.5],[157,18],[160,18.6],[162,17.5],[164,16.4],[167,16],[170,15.6],[173,16.7],[176,17.8],[180,18.6],[184,19.3],[188.5,19.3],[193,19.3],[195,19.1],[197,19],[198,16],[200.5,17.5],[203,19],[206.5,18.2],[210,17.5],[212.5,17.8],[215,18.2],[219,19.5],[223,20.8],[225.5,19.3],[228,17.8],[231,18.4],[234,19],[239,19.3],[244,19.7],[247.5,20.2],[251,20.8],[254,21.2],[257,21.5],[260,21.7],[263,21.9],[265.5,22.1],[268,22.3],[270,21.6],[272,20.8],[274.5,19.9],[277,19],[281.5,18.6],[286,18.2],[289,17.8],[292,17.5],[295,17.1],[298,16.7],[301,16.3],[304,16],[307.5,16.2],[311,16.4],[313.5,16],[316,15.6],[318,16.3],[320,17.1],[321.5,18],[323,19],[324,21.5],[325,23.8],[326.5,24.5],[328,24.9],[329,24],[330,23],[332.5,22.3],[335,21.6],[337.5,23],[340,24.2],[342,21.5],[344,19.3],[346.5,21.5],[349,23.4],[350.5,20],[352,16.4],[353.5,20],[355,23.4],[356.5,21.5],[358,20],[360,22.3],[362,19.7],[364,17.1],[366,16.8],[368,16.4],[370.5,16.2],[373,16],[375.5,18.4],[378,20.8],[380.5,21.2],[383,21.6],[386.5,22.5],[390,23.4],[392.5,22.1],[395,20.8],[398.5,20.8],[402,20.8],[405.5,20.6],[409,20.4],[412.5,20.8],[416,21.2],[419.5,21.6],[423,21.9],[427,22.7],[431,23.4],[434.5,23.5],[438,23.4],[441.5,23],[445,22.6],[447.5,22.1],[450,21.6],[453.5,21.8],[457,21.9],[458,17.1],[460,19.5],[462,21.9],[465.5,22.1],[469,22.3],[471.5,22.1],[474,21.9],[476,16.4],[477.5,18.5],[479,20.4],[481.5,20.8],[484,21.2],[486,19],[488,16.4],[490.5,18.3],[493,20.1],[495.5,18.2],[498,16.4],[500.5,16.8],[503,17.1],[505,21.9],[507.5,19.5],[510,17.1],[512.5,16.8],[515,16.4],[517.5,16],[520,15.6],[523.5,16.7],[527,17.8],[529.5,18.5],[532,19.3],[535.5,20.6],[539,21.9],[541.5,21.6],[544,21.2],[546,19],[548,17.1],[552,16.8],[556,16.4],[559.5,16.8],[563,17.1],[566.5,17.4],[570,17.8],[573.5,18.2],[577,18.6],[579.5,19.1],[582,19.7],[584.5,19],[587,18.2],[593,20],[599,21.9],[601.5,20],[604,18.2],[606,17.6],[608,17.1],[611.5,17.6],[615,18.2],[617.5,18],[620,17.8],[622.5,18.8],[625,19.7],[627.5,18],[630,16.4],[637,18.8],[644,21.2],[648,19.3],[652,17.5],[655.5,18],[659,18.6],[660,17.5],[661,16.4],[663.5,16.4],[666,16.4],[668.5,16.5],[671,16.7],[673.5,18.8],[676,20.8],[679.5,21.5],[683,22.3],[685.5,19],[688,16],[690,19.5],[692,23],[695,20.4],[698,17.8],[700,20],[702,22.3],[704,21.3],[706,20.4],[709,21.7],[712,23],[716,23.4],[720,23.8]];

const lonDeg = [[0,278],[15,279],[28,281],[33,284],[35.5,290],[36.6,305],[37.4,360],[37.4,0],[38.2,65],[39.5,84],[43,91],[60,95],[80,98],[90,101],[94.5,106],[96.3,125],[97.2,180],[98.1,235],[100,255],[104,263],[120,270],[140,274],[150,277],[153.5,282],[154.8,300],[155.5,360],[155.5,0],[156.3,65],[157.6,84],[161,90],[180,94],[200,97],[208,100],[212.6,105],[214.4,125],[215.3,180],[216.2,235],[218,255],[222,263],[240,270],[260,274],[268,276],[271.6,281],[272.9,300],[273.6,360],[273.6,0],[274.4,65],[275.7,84],[279,90],[300,94],[320,97],[326,99],[330.7,105],[332.5,125],[333.4,180],[334.3,235],[336.2,255],[340,263],[360,270],[380,274],[386,277],[389.7,281],[391,300],[391.7,360],[391.7,0],[392.5,65],[393.8,84],[397,90],[420,94],[438,97],[444,99],[448.7,105],[450.5,125],[451.4,180],[452.3,235],[454.2,255],[458,263],[480,270],[498,274],[504,277],[507.8,281],[509.1,300],[509.8,360],[509.8,0],[510.6,65],[511.9,84],[515,90],[540,94],[556,97],[562,99],[566.1,105],[567.9,125],[568.8,180],[569.7,235],[571.6,255],[575,263],[600,270],[616,274],[622,277],[625.8,281],[627.1,300],[627.8,360],[627.8,0],[628.6,65],[629.9,84],[633,90],[655,94],[674,97],[680,99],[684.2,105],[686,125],[686.9,180],[687.8,235],[689.7,255],[693,263],[710,268],[720,269]];

const latDeg = [[0,-27],[37.4,90],[97.2,-90],[155.5,90],[215.3,-90],[273.6,90],[333.4,-90],[391.7,90],[451.4,-90],[509.8,90],[568.8,-90],[627.8,90],[686.9,-90],[720,14]];

const altKm = [[0,88.8],[3,87],[6.5,85.8],[10,85],[13.7,84.8],[21,86],[28.5,89.5],[36,94.5],[43.5,100.3],[51,106.2],[58.5,111.5],[66,115],[73.4,116.2],[80.7,115],[88,111.5],[95.3,106.2],[102.5,100.3],[110,94.3],[117.5,89.3],[125,85.9],[132.5,84.6],[139.8,85.8],[147.2,89.2],[154.6,94.4],[162,100.4],[169.4,106.5],[176.8,111.8],[184.2,115.3],[191.5,116.5],[198.9,115.3],[206.3,111.8],[213.6,106.4],[221,100.3],[228.4,94.3],[235.8,89],[243.2,85.5],[250.6,84.3],[257.9,85.5],[265.2,89],[272.6,94.4],[280,100.4],[287.3,106.6],[294.5,112],[301.8,115.6],[309,116.8],[316.4,115.6],[323.8,112],[331.2,106.5],[338.5,100.3],[345.9,94.2],[353.3,88.9],[360.6,85.3],[368,84.1],[375.4,85.3],[382.8,88.9],[390.2,94.4],[397.5,100.5],[404.9,106.7],[412.3,112.2],[419.7,115.8],[427,117],[434.4,115.8],[441.8,112.2],[449.2,106.6],[456.5,100.4],[463.9,94.2],[471.3,88.8],[478.7,85.2],[486,84],[493.4,85.2],[500.8,88.8],[508.2,94.4],[515.5,100.6],[522.9,106.9],[530.3,112.4],[537.7,116],[545,117.3],[552.3,116],[559.5,112.4],[566.8,106.6],[574,100.5],[581.3,94.1],[588.5,88.6],[595.8,85],[603,83.8],[610.4,85],[617.7,88.6],[625,94.4],[632.4,100.6],[639.7,107],[647,112.6],[654.4,116.2],[661.7,117.5],[669,116.2],[676.3,112.6],[683.7,106.7],[691,100.5],[698.3,94],[705.5,88.5],[712.8,84.9],[720,83.6]];

// ---------- styling ----------
const FONT = '"Liberation Serif", "Times New Roman", serif';
const TXT = '#2b2b2b';
const AX = '#808080';
const RED = '#ff0000', BLUE = '#0000ff';
const tops = [67, 300, 536, 771, 1007, 1241];

const option = {animation:false, backgroundColor:'#fff', grid:[], xAxis:[], yAxis:[], series:[], graphic:[]};
tops.forEach(t => option.grid.push({left:158, width:1000, top:t, height:200, outerBoundsMode:'none'}));

function addX(g, pos, labels){
  option.xAxis.push({
    gridIndex:g, type:'value', min:0, max:720, interval:180, position:pos,
    axisLine:{show:true, onZero:false, lineStyle:{color:AX, width:1.2}},
    axisTick:{show:true, inside:true, length:9, lineStyle:{color:AX, width:1.2}},
    minorTick:{show:true, splitNumber:3, length:6, lineStyle:{color:AX, width:1.2}},
    splitLine:{show:false}, minorSplitLine:{show:false},
    axisLabel:{show:labels, margin:10, fontSize:24, fontFamily:FONT, color:TXT, showMinLabel:true, showMaxLabel:true,
      formatter: v => String(1200 + v/60*100)},
    name: labels ? 'UT' : '', nameLocation:'middle', nameGap:44,
    nameTextStyle:{fontSize:24, fontFamily:FONT, color:TXT}
  });
  return option.xAxis.length - 1;
}
const fmtNum = v => v < 0 ? '\u2212' + Math.abs(v) : String(v);
function addY(g, pos, min, max, major, minor, color, labelColor, showLabels, name, nameColor, nameGap){
  const idx = option.yAxis.length;
  option.yAxis.push({
    gridIndex:g, type:'value', min:min, max:max, position:pos,
    axisLine:{show:true, onZero:false, lineStyle:{color:color, width:1.2}},
    axisTick:{show:true, inside:true, length:9, customValues:major, lineStyle:{color:color, width:1.2}},
    axisLabel:{show:showLabels, customValues:major, margin:8, fontSize:24, fontFamily:FONT, color:labelColor, formatter:fmtNum, showMinLabel:true, showMaxLabel:true},
    splitLine:{show:false},
    name: name || '', nameLocation:'middle', nameGap:nameGap || 56, nameRotate:90,
    nameTextStyle:{fontSize:24, fontFamily:FONT, color:nameColor,
      rich:{b:{fontSize:24, fontFamily:FONT, color:nameColor, lineHeight:30, verticalAlign:'middle'},
            s:{fontSize:17, fontFamily:FONT, color:nameColor, lineHeight:13, verticalAlign:'bottom'}}}
  });
  option.yAxis.push({
    gridIndex:g, type:'value', min:min, max:max, position:pos,
    axisLine:{show:false},
    axisTick:{show:true, inside:true, length:5, customValues:minor, lineStyle:{color:color, width:1.2}},
    axisLabel:{show:false}, splitLine:{show:false}
  });
  return idx;
}
function dashLines(list){
  return {symbol:['none','none'], silent:true, label:{show:false},
    lineStyle:{type:[11,7], width:1.3}, data:list.map(d => ({yAxis:d[0], lineStyle:{color:d[1], type:[11,7], width:1.3}}))};
}
function line(xi, yi, data, color, width, z, extra){
  return Object.assign({type:'line', xAxisIndex:xi, yAxisIndex:yi, data:data, showSymbol:false, symbol:'none',
    lineStyle:{color:color, width:width}, itemStyle:{color:color}, z:z, clip:true, emphasis:{disabled:true}}, extra || {});
}

const subs = ['x','y','z','t'];
const kplo = [kploBx, kploBy, kploBz, kploBt];
const artemis = [artemisBx, artemisBy, artemisBz, artemisBt];
for (let g = 0; g < 4; g++){
  const xi = addX(g, 'bottom', false); addX(g, 'top', false);
  const yi = addY(g, 'left', -15, 30, bLabels, bMinor, AX, TXT, true, '{b|B}{s|' + subs[g] + '}{b| (nT)}', '#3a3a3a', 56);
  addY(g, 'right', -15, 30, bLabels, bMinor, AX, TXT, false);
  option.series.push(line(xi, yi, artemis[g], '#9a9a9a', 2.2, 2,
    {markLine: dashLines([[15,'#c8c8c8'],[0,'#858585']])}));
  option.series.push(line(xi, yi, kplo[g], '#141414', 1.2, 3));
}
// panel (e)
{
  const g = 4;
  const xi = addX(g, 'bottom', false); addX(g, 'top', false);
  const yl = addY(g, 'left', 0, 360, lonLabels, lonMinor, RED, RED, true, 'Lon. (deg)', RED, 60);
  const yr = addY(g, 'right', -90, 90, latLabels, latMinor, BLUE, BLUE, true, 'Lat. (deg)', BLUE, 64);
  option.series.push(line(xi, yl, lonDeg, RED, 1, 3, {markLine: dashLines([[180,'#5a5a5a']])}));
  option.series.push(line(xi, yr, latDeg, BLUE, 1, 3));
}
// panel (f)
{
  const g = 5;
  const xi = addX(g, 'bottom', true); addX(g, 'top', false);
  const yl = addY(g, 'left', 80, 120, altLabels, altMinor, AX, TXT, true, 'Alt. (km)', '#3a3a3a', 60);
  addY(g, 'right', 80, 120, altLabels, altMinor, AX, TXT, false);
  option.series.push(line(xi, yl, altKm, '#141414', 1, 3, {smooth:true, markLine: dashLines([[100,'#7a7a7a']])}));
}

// texts
function txt(x, y, s, color, align){
  option.graphic.push({type:'text', x:x, y:y, silent:true, z:50,
    style:{text:s, fill:color, font:'24px ' + FONT, align:align || 'left', verticalAlign:'middle'}});
}
txt(658, 12, '04 May 2023 (12:00-24:00 UT)', TXT, 'center');
txt(658, 44, 'SEL coordinates', TXT, 'center');
const panelLetters = ['(a)','(b)','(c)','(d)','(e)','(f)'];
const letterY = [153, 401, 636, 871, 1106, 1340];
panelLetters.forEach((s, i) => txt(0, letterY[i], s, TXT, 'left'));
txt(348, 90, 'ARTEMIS P1 (+15 nT)', '#9a9a9a', 'left');
txt(348, 170, 'KPLO', '#141414', 'left');

const chart = echarts.init(document.getElementById('c'), null, {renderer:'canvas'});
chart.setOption(option);
</script>
</body></html>
